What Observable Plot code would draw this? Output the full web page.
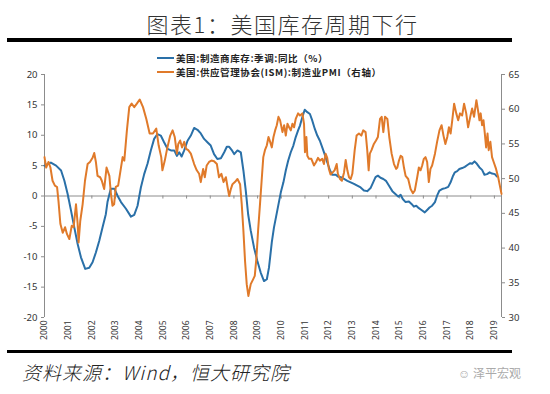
<!DOCTYPE html>
<html><head><meta charset="utf-8">
<script src="https://cdn.jsdelivr.net/npm/d3@7"></script>
<script src="https://cdn.jsdelivr.net/npm/@observablehq/plot@0.6"></script>
<style>
body{margin:0;background:#fff;}
#wrap{position:relative;width:550px;height:394px;overflow:hidden;background:#fff;font-family:"Noto Sans CJK SC","Noto Sans",sans-serif;}
#title{position:absolute;left:0;width:565px;top:7px;text-align:center;font-size:22px;color:#333;letter-spacing:1.5px;font-weight:300;}
.bar{position:absolute;left:7px;width:505px;height:4px;background:#000;}
#legend{position:absolute;left:157px;top:51px;font-size:9.5px;color:#222;line-height:14px;letter-spacing:0.6px;font-weight:700;}
#legend div{display:flex;align-items:center;white-space:nowrap;}
#legend span.sw{display:inline-block;width:17px;height:2px;margin-right:2px;}
#chart{position:absolute;left:0;top:48px;}
#caption{position:absolute;left:22px;top:358px;font-size:19px;font-style:italic;color:#222;font-weight:300;letter-spacing:1px;}
#mark{position:absolute;left:458px;top:364px;font-size:12px;color:#aaa;}
</style></head>
<body><div id="wrap">
<div id="title">图表1：美国库存周期下行</div>
<div class="bar" style="top:38px"></div>
<div id="chart"></div>
<div id="legend">
<div><span class="sw" style="background:#2a70a8"></span>美国:制造商库存:季调:同比（%）</div>
<div><span class="sw" style="background:#e07a2a"></span>美国:供应管理协会(ISM):制造业PMI（右轴）</div>
</div>
<div class="bar" style="top:350px;height:3px"></div>
<div id="caption">资料来源：Wind，恒大研究院</div>
<div id="mark">☺ 泽平宏观</div>
</div>
<script>
// US manufacturers' inventories YoY (%), left axis — time (decimal year) and value
const invT = [
2000.0,2000.27,2000.49,2000.70,2000.84,2000.98,2001.12,2001.26,2001.40,2001.54,
2001.72,2001.89,2002.03,2002.17,2002.31,2002.45,2002.59,2002.66,2002.80,2002.95,
2003.09,2003.23,2003.44,2003.65,2003.79,2003.93,2004.07,2004.21,2004.35,2004.49,
2004.63,2004.77,
2004.91,2005.05,2005.20,2005.34,2005.48,2005.59,2005.69,2005.79,2005.90,2006.04,
2006.18,2006.32,2006.46,2006.60,2006.74,2006.88,2007.02,2007.16,2007.30,2007.45,
2007.59,2007.70,2007.80,2007.90,2008.01,2008.15,2008.29,2008.40,2008.50,2008.60,
2008.71,2008.85,2008.99,2009.13,2009.27,2009.39,2009.48,2009.60,2009.69,2009.83,
2009.98,
2010.09,2010.19,2010.29,2010.40,2010.51,2010.61,2010.71,2010.79,2010.89,2010.99,
2011.10,2011.21,2011.31,2011.42,2011.52,2011.63,2011.73,2011.83,2011.94,2012.06,
2012.15,2012.30,2012.39,2012.51,2012.65,2012.79,2012.93,2013.07,2013.21,2013.35,
2013.49,2013.63,2013.77,2013.88,2013.98,2014.08,2014.19,2014.31,2014.42,2014.55,
2014.69,2014.83,
2014.94,2015.04,2015.13,2015.25,2015.39,2015.50,2015.60,2015.70,2015.81,2015.92,
2016.06,2016.16,2016.26,2016.37,2016.49,2016.58,2016.68,2016.79,2016.93,2017.05,
2017.15,2017.24,2017.33,2017.43,2017.52,2017.64,2017.75,2017.86,2017.98,2018.06,
2018.16,2018.26,2018.37,2018.48,2018.58,2018.69,2018.80,2018.90,2019.02,2019.11];
const invV = [
5.0,5.5,5.0,4.2,2.5,0.3,-2.4,-5.2,-7.9,-10.1,
-12.0,-11.8,-10.9,-9.3,-7.4,-5.2,-3.0,-1.0,1.2,1.2,
0,-1.0,-2.1,-3.4,-3.1,-1.6,1.4,3.6,5.3,7.5,
9.4,10.2,
9.95,8.85,7.75,7.5,7.5,6.6,7.2,6.5,7.5,9.1,
9.95,11.2,10.9,10.3,9.4,8.85,8.3,6.9,6.1,6.2,
7.2,8.1,8.1,7.6,6.9,7.5,7.2,4.2,0.9,-3.0,
-5.7,-8.5,-10.7,-12.6,-14.0,-13.7,-11.8,-7.6,-5.2,-2.4,
0.6,
2.25,4.2,5.8,7.2,8.3,9.7,10.8,11.6,13.0,14.2,
13.8,13.5,12.4,11.0,9.95,9.1,8.0,6.9,5.55,4.2,
3.5,3.5,3.2,3.1,2.8,2.5,2.25,2.0,1.7,1.4,
0.9,0.8,1.3,2.25,3.1,3.35,3.0,2.8,2.5,1.7,
0.8,0.3,
-0.1,0.2,-0.5,-1.0,-0.9,-1.3,-1.75,-1.6,-2.0,-2.3,
-2.7,-2.3,-1.9,-1.6,-1.0,0.05,0.9,1.15,1.3,1.5,
2.25,3.2,3.9,4.1,4.45,4.6,4.8,5.1,5.4,5.3,
5.7,5.3,4.7,4.3,3.5,3.6,3.9,3.7,3.6,3.2];

// ISM manufacturing PMI, right axis — time (decimal year) and value
const pmiT = [
2000.0,2000.07,2000.17,2000.25,2000.34,2000.44,2000.53,2000.59,2000.67,2000.77,
2000.87,2000.95,2001.05,2001.15,2001.23,2001.33,2001.40,2001.44,2001.51,2001.61,
2001.71,2001.82,2001.92,2002.03,2002.10,2002.17,2002.24,2002.35,2002.42,2002.52,
2002.62,2002.74,2002.80,2002.87,2002.94,2003.01,2003.11,2003.23,2003.30,2003.37,
2003.48,2003.58,2003.68,2003.79,2003.90,2004.02,2004.16,2004.30,2004.44,2004.58,
2004.72,2004.82,2004.93,
2004.98,2005.08,2005.19,2005.31,2005.41,2005.50,2005.59,2005.65,2005.73,2005.81,
2005.90,2005.98,2006.07,2006.18,2006.32,2006.43,2006.53,2006.60,2006.70,2006.77,
2006.85,2006.95,2007.05,2007.16,2007.28,2007.37,2007.47,2007.56,2007.66,2007.73,
2007.80,2007.87,2007.94,2008.04,2008.15,2008.26,2008.33,2008.40,2008.47,2008.54,
2008.61,2008.71,2008.81,2008.88,2008.95,2009.02,2009.10,2009.17,2009.24,2009.31,
2009.39,2009.46,2009.53,2009.60,2009.67,2009.74,2009.81,2009.88,2009.95,
2010.05,2010.12,2010.19,2010.26,2010.33,2010.40,2010.47,2010.54,2010.61,2010.71,
2010.79,2010.89,2010.96,2011.00,2011.06,2011.10,2011.17,2011.27,2011.38,2011.47,
2011.55,2011.63,2011.73,2011.80,2011.87,2011.94,2012.01,2012.08,2012.17,2012.25,
2012.34,2012.39,2012.48,2012.56,2012.65,2012.72,2012.79,2012.86,2012.93,2013.00,
2013.10,2013.18,2013.28,2013.38,2013.46,2013.56,2013.63,2013.69,2013.74,2013.81,
2013.91,2014.00,2014.08,2014.17,2014.24,2014.31,2014.38,2014.48,2014.56,2014.66,
2014.76,2014.85,
2014.90,2014.97,2015.04,2015.11,2015.18,2015.25,2015.36,2015.46,2015.56,2015.64,
2015.74,2015.81,2015.88,2015.95,2016.02,2016.09,2016.16,2016.23,2016.30,2016.37,
2016.49,2016.58,2016.68,2016.77,2016.85,2016.93,2017.01,2017.08,2017.15,2017.22,
2017.30,2017.39,2017.47,2017.55,2017.64,2017.72,2017.81,2017.89,2017.98,2018.06,
2018.14,2018.24,2018.31,2018.37,2018.42,2018.48,2018.54,2018.59,2018.65,2018.71,
2018.76,2018.83,2018.90,2018.97,2019.07,2019.16,2019.23,2019.30];
const pmiV = [
53.1,51.6,52.4,51.6,49.7,49.0,48.8,46.8,43.5,42.2,
43.0,42.0,41.3,43.2,43.0,46.3,43.5,40.8,43.9,46.3,
49.7,52.1,52.4,53.0,53.7,52.4,50.4,50.2,49.7,48.5,
51.6,50.4,48.0,46.1,46.3,48.8,49.0,51.6,53.1,52.6,
56.95,60.3,60.8,60.3,60.8,61.4,60.3,58.6,56.5,56.5,
57.2,54.8,53.1,
51.2,52.6,54.5,56.2,56.95,56.0,53.6,55.0,55.5,54.5,
55.3,54.3,54.1,53.6,52.1,51.2,50.7,49.5,51.4,50.2,
51.9,52.4,52.6,52.5,52.1,50.2,50.7,49.5,50.2,48.8,
47.5,48.5,49.2,49.5,49.95,49.2,46.3,42.5,38.1,34.8,
33.1,34.8,35.5,36.0,38.6,42.5,46.3,49.7,53.1,54.1,
54.8,56.0,55.3,54.5,56.0,56.95,57.7,58.9,58.4,
56.7,57.7,56.2,57.9,57.4,56.95,57.9,57.4,58.6,59.4,
59.1,59.4,57.9,53.8,56.0,53.3,52.85,52.85,51.9,52.4,
53.0,52.6,52.85,52.1,53.6,53.0,51.4,50.6,50.9,51.2,
52.1,50.7,49.95,49.7,50.9,52.7,51.2,50.2,49.95,50.7,
54.1,56.2,56.5,56.2,56.95,56.7,54.1,51.2,53.6,54.1,
55.0,55.5,56.0,58.6,58.9,56.7,58.9,58.6,56.0,53.6,
52.1,51.4,
51.6,52.6,53.3,53.1,51.6,50.4,49.95,48.5,47.9,48.3,
50.2,51.6,51.2,51.9,52.85,53.1,52.4,49.5,51.4,51.9,
53.6,55.3,56.95,57.7,56.2,55.0,56.0,57.4,56.5,58.4,
60.8,59.4,58.4,59.4,59.1,60.8,59.4,57.4,58.9,60.1,
58.9,61.3,59.8,58.4,59.4,57.7,58.4,56.7,54.5,56.5,
54.1,55.3,53.1,52.4,51.4,50.2,49.0,47.8];

const yearTicks = d3.range(2000, 2020);
const leftTicks = d3.range(-20, 21, 5);
const rightTicks = d3.range(30, 66, 5);
// map PMI (30..65, right axis) onto the left scale (-20..20)
const toLeft = p => -20 + (p - 30) * 40 / 35;

const inv = invT.map((t, i) => ({t, v: invV[i]}));
const pmi = pmiT.map((t, i) => ({t, v: toLeft(pmiV[i])}));

const axisColor = "#8c8c8c";
const plot = Plot.plot({
  width: 550,
  height: 300,
  marginLeft: 44,
  marginRight: 49,
  marginTop: 26,
  marginBottom: 31,
  style: {fontFamily: "Noto Sans, sans-serif", fontSize: "9.5px", color: "#333", background: "transparent"},
  x: {type: "linear", domain: [2000, 2019.3], axis: null, label: null},
  y: {type: "linear", domain: [-20, 20], axis: null, label: null},
  marks: [
    Plot.ruleX([2000], {y1: -20, y2: 20, stroke: axisColor}),
    Plot.axisY({ticks: leftTicks, tickFormat: d => String(d), tickSize: 3, tickPadding: 4, stroke: axisColor, fill: "#333", anchor: "left", label: null}),
    Plot.ruleX([2019.3], {y1: -20, y2: 20, stroke: axisColor}),
    Plot.axisY(rightTicks.map(toLeft), {anchor: "right", tickFormat: (d, i) => String(rightTicks[i]), tickSize: 3, tickPadding: 4, stroke: axisColor, fill: "#333", label: null}),
    Plot.ruleY([0], {x1: 2000, x2: 2019.3, stroke: axisColor}),
    Plot.ruleX(yearTicks, {y1: 0, y2: -0.5, stroke: axisColor}),
    Plot.axisX({ticks: yearTicks, tickFormat: d => String(d), tickRotate: -90, tickSize: 0, tickPadding: 3, fill: "#333", fontSize: 8.5, label: null}),
    Plot.line(inv, {x: "t", y: "v", stroke: "#2a70a8", strokeWidth: 2, strokeLinejoin: "round"}),
    Plot.line(pmi, {x: "t", y: "v", stroke: "#e07a2a", strokeWidth: 2, strokeLinejoin: "round"})
  ]
});
document.getElementById("chart").appendChild(plot);
</script>
</body></html>
